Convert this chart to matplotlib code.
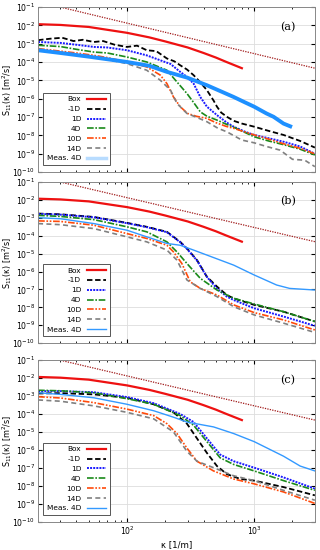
import numpy as np
import matplotlib
matplotlib.use('Agg')
import matplotlib.pyplot as plt
from matplotlib.lines import Line2D

# data, stored as log10(S11)
box_k = [20, 30, 50, 100, 150, 200, 300, 400, 500, 600, 800]
box_s = [-1.93, -1.97, -2.08, -2.4, -2.65, -2.87, -3.2, -3.5, -3.75, -3.98, -4.33]

ref_k = [30, 3000]
ref_s = [-1.0, -4.33]

# panel (a)
a_m1d_k = [20, 25, 31, 38, 45, 55, 65, 80, 100, 120, 143, 170, 206, 235, 262, 296, 334, 377, 425, 480, 510, 550, 610, 690, 800, 1000, 1300, 1700, 2300, 3000]
a_m1d_s = [-2.8, -2.72, -2.67, -2.85, -2.78, -2.9, -2.85, -3.05, -3.17, -3.1, -3.35, -3.4, -3.8, -3.95, -4.17, -4.4, -4.71, -5.1, -5.53, -6.1, -6.43, -6.75, -6.98, -7.2, -7.35, -7.52, -7.75, -7.97, -8.3, -8.66]
a_1d_k = [20, 30, 40, 55, 70, 100, 143, 183, 220, 262, 296, 334, 377, 425, 510, 610, 690, 850, 1000, 1300, 1700, 2300, 3000]
a_1d_s = [-2.9, -2.95, -3.05, -3.17, -3.2, -3.35, -3.63, -3.9, -4.1, -4.53, -4.8, -5.17, -5.9, -6.43, -6.89, -7.3, -7.52, -7.8, -7.97, -8.15, -8.34, -8.6, -9.0]
a_4d_k = [20, 30, 40, 55, 70, 100, 143, 206, 247, 296, 334, 377, 425, 510, 610, 690, 1000, 1300, 1700, 2300, 3000]
a_4d_s = [-3.08, -3.15, -3.3, -3.45, -3.5, -3.72, -3.99, -4.44, -5.08, -5.71, -6.2, -6.71, -6.95, -7.16, -7.4, -7.55, -8.07, -8.3, -8.5, -8.75, -9.06]
a_10d_k = [20, 30, 40, 55, 70, 100, 143, 183, 206, 232, 262, 300, 350, 425, 500, 600, 690, 1000, 1300, 1700, 2300, 3000]
a_10d_s = [-3.26, -3.4, -3.5, -3.63, -3.75, -3.99, -4.26, -4.71, -5.17, -5.9, -6.43, -6.8, -6.95, -7.07, -7.3, -7.5, -7.61, -7.97, -8.2, -8.45, -8.7, -9.0]
a_14d_k = [20, 30, 40, 55, 70, 100, 143, 183, 220, 247, 296, 350, 425, 520, 610, 800, 1000, 1250, 1600, 2000, 2500, 3000]
a_14d_s = [-3.35, -3.45, -3.6, -3.72, -3.85, -4.08, -4.44, -4.99, -5.53, -6.25, -6.8, -7.0, -7.25, -7.61, -7.8, -8.25, -8.4, -8.6, -8.8, -9.3, -9.35, -9.7]
a_meas_k = [20, 30, 50, 100, 150, 206, 296, 425, 550, 690, 850, 1000, 1250, 1420, 1700, 1920]
a_meas_s = [-3.35, -3.5, -3.7, -3.99, -4.2, -4.53, -4.84, -5.26, -5.6, -5.9, -6.2, -6.43, -6.8, -6.98, -7.35, -7.5]

# panel (b)
b_m1d_k = [20, 30, 55, 100, 143, 206, 262, 296, 355, 425, 510, 610, 690, 1000, 1700, 3000]
b_m1d_s = [-2.76, -2.8, -2.95, -3.28, -3.5, -3.78, -4.34, -4.71, -5.36, -6.29, -6.84, -7.31, -7.5, -7.86, -8.24, -8.79]
b_1d_k = [20, 30, 55, 100, 143, 206, 262, 296, 355, 425, 510, 610, 690, 1000, 1700, 3000]
b_1d_s = [-2.78, -2.82, -2.97, -3.3, -3.52, -3.8, -4.36, -4.73, -5.38, -6.3, -6.95, -7.4, -7.59, -8.05, -8.51, -9.03]
b_4d_k = [20, 30, 55, 100, 143, 206, 247, 296, 377, 510, 690, 1000, 1700, 3000]
b_4d_s = [-2.86, -2.92, -3.1, -3.5, -3.78, -4.34, -4.9, -5.55, -6.38, -7.03, -7.49, -7.81, -8.24, -8.79]
b_10d_k = [20, 30, 55, 100, 143, 206, 232, 270, 314, 377, 510, 690, 1000, 1700, 3000]
b_10d_s = [-3.17, -3.2, -3.41, -3.88, -4.15, -4.53, -4.9, -5.55, -6.57, -6.94, -7.31, -7.86, -8.29, -8.7, -9.26]
b_14d_k = [20, 30, 55, 100, 143, 206, 247, 296, 377, 510, 690, 1000, 1700, 3000]
b_14d_s = [-3.32, -3.38, -3.6, -4.06, -4.34, -4.8, -5.36, -6.47, -6.94, -7.4, -7.96, -8.42, -8.88, -9.4]
b_meas_k = [20, 30, 55, 100, 143, 206, 262, 334, 460, 690, 1000, 1500, 1900, 3000]
b_meas_s = [-2.99, -3.05, -3.32, -3.69, -4.06, -4.43, -4.53, -4.8, -5.17, -5.64, -6.19, -6.75, -6.94, -7.03]

# panel (c)
c_m1d_k = [20, 30, 55, 100, 162, 232, 296, 355, 425, 510, 610, 780, 1000, 1700, 3000]
c_m1d_s = [-2.85, -2.83, -2.9, -3.09, -3.45, -3.9, -4.53, -5.35, -6.16, -6.89, -7.34, -7.61, -7.7, -8.06, -8.52]
c_1d_k = [20, 30, 55, 100, 162, 262, 334, 425, 540, 690, 1000, 1700, 3000]
c_1d_s = [-2.72, -2.72, -2.78, -3.05, -3.39, -3.99, -4.44, -5.35, -6.25, -6.62, -6.98, -7.52, -8.15]
c_4d_k = [20, 30, 55, 100, 162, 262, 334, 425, 540, 690, 1000, 1700, 3000]
c_4d_s = [-2.67, -2.7, -2.81, -3.14, -3.45, -4.08, -4.62, -5.53, -6.43, -6.8, -7.16, -7.7, -8.24]
c_10d_k = [20, 30, 55, 100, 162, 206, 247, 296, 355, 479, 690, 1000, 1700, 3000]
c_10d_s = [-3.03, -3.1, -3.36, -3.72, -4.08, -4.53, -5.08, -5.89, -6.62, -7.16, -7.61, -7.88, -8.33, -8.97]
c_14d_k = [20, 30, 55, 100, 162, 232, 296, 355, 479, 690, 1000, 1700, 3000]
c_14d_s = [-3.21, -3.28, -3.54, -3.9, -4.26, -4.99, -6.07, -6.62, -6.98, -7.43, -7.7, -8.24, -8.79]
c_meas_k = [20, 30, 55, 100, 162, 232, 296, 479, 690, 1000, 1700, 2300, 3000]
c_meas_s = [-2.81, -2.9, -3.09, -3.45, -3.81, -4.17, -4.44, -4.71, -5.08, -5.53, -6.34, -6.89, -7.16]

labels = ['Box', '-1D', '1D', '4D', '10D', '14D', 'Meas. 4D']
panel_tags = ['(a)', '(b)', '(c)']

panels = [
    [(a_m1d_k, a_m1d_s), (a_1d_k, a_1d_s), (a_4d_k, a_4d_s), (a_10d_k, a_10d_s), (a_14d_k, a_14d_s), (a_meas_k, a_meas_s)],
    [(b_m1d_k, b_m1d_s), (b_1d_k, b_1d_s), (b_4d_k, b_4d_s), (b_10d_k, b_10d_s), (b_14d_k, b_14d_s), (b_meas_k, b_meas_s)],
    [(c_m1d_k, c_m1d_s), (c_1d_k, c_1d_s), (c_4d_k, c_4d_s), (c_10d_k, c_10d_s), (c_14d_k, c_14d_s), (c_meas_k, c_meas_s)],
]

styles = [
    dict(color='black', ls=(0, (3, 1.5)), lw=1.3),
    dict(color='#1a1aff', ls=(0, (1, 0.6)), lw=1.4),
    dict(color='#1a8a1a', ls=(0, (4, 1, 1, 1)), lw=1.2),
    dict(color='#ff4a0a', ls=(0, (4, 1, 1, 1, 1, 1)), lw=1.2),
    dict(color='#808080', ls=(0, (3, 2)), lw=1.2),
]

fig = plt.figure(figsize=(3.2, 5.5), dpi=100)
boxes = [(0.119, 0.687, 0.865, 0.300),
         (0.119, 0.376, 0.865, 0.293),
         (0.119, 0.051, 0.865, 0.294)]

for p in range(3):
    ax = fig.add_axes(boxes[p])
    ax.set_xscale('log')
    ax.set_yscale('log')
    ax.plot(ref_k, 10**np.array(ref_s), color='#a01818', ls=(0, (1, 1)), lw=0.9)
    ax.plot(box_k, 10**np.array(box_s), color='#ee1111', lw=1.6, label=labels[0])
    for i, (k, s) in enumerate(panels[p][:5]):
        ax.plot(k, 10**np.array(s), label=labels[i + 1], **styles[i])
    mk, ms = panels[p][5]
    if p == 0:
        ax.plot(mk, 10**np.array(ms), color='#1e90ff', lw=2.8, label=labels[6])
    else:
        ax.plot(mk, 10**np.array(ms), color='#3399ff', lw=1.0, label=labels[6])

    ax.set_xlim(20, 3000)
    ax.set_ylim(1e-10, 1e-1)
    ax.set_yticks([10.0**e for e in range(-10, 0)])
    ax.grid(True, which='major', color='#dddddd', lw=0.6)
    ax.tick_params(which='both', direction='in', top=True, right=True, labelsize=5.6, length=3, pad=2)
    ax.tick_params(which='minor', length=1.5)
    for sp in ax.spines.values():
        sp.set_color('#888888')
        sp.set_linewidth(0.7)
    ax.set_ylabel(r'S$_{11}$(κ) [m$^2$/s]', fontsize=5.8)
    ax.yaxis.set_label_coords(-0.088, 0.5)
    ax.text(0.93, 0.88, panel_tags[p], transform=ax.transAxes, ha='right', va='center',
            fontsize=8, family='DejaVu Serif')

    handles, labs = ax.get_legend_handles_labels()
    if p == 0:
        handles[-1] = Line2D([], [], color='#b8dcff', lw=2.5)
    leg = ax.legend(handles, labs, loc='lower left', bbox_to_anchor=(0.005, 0.02), fontsize=5.3,
                    markerfirst=False, fancybox=False, edgecolor='#555555', framealpha=1,
                    handlelength=2.6, labelspacing=0.5, borderpad=0.5, handletextpad=0.8)
    for t in leg.get_texts():
        t.set_ha('right')
    leg.get_frame().set_linewidth(0.7)

    if p < 2:
        ax.tick_params(labelbottom=False)
    else:
        ax.set_xlabel('κ [1/m]', fontsize=6.2, labelpad=2)

fig.savefig('out.png', dpi=100)
